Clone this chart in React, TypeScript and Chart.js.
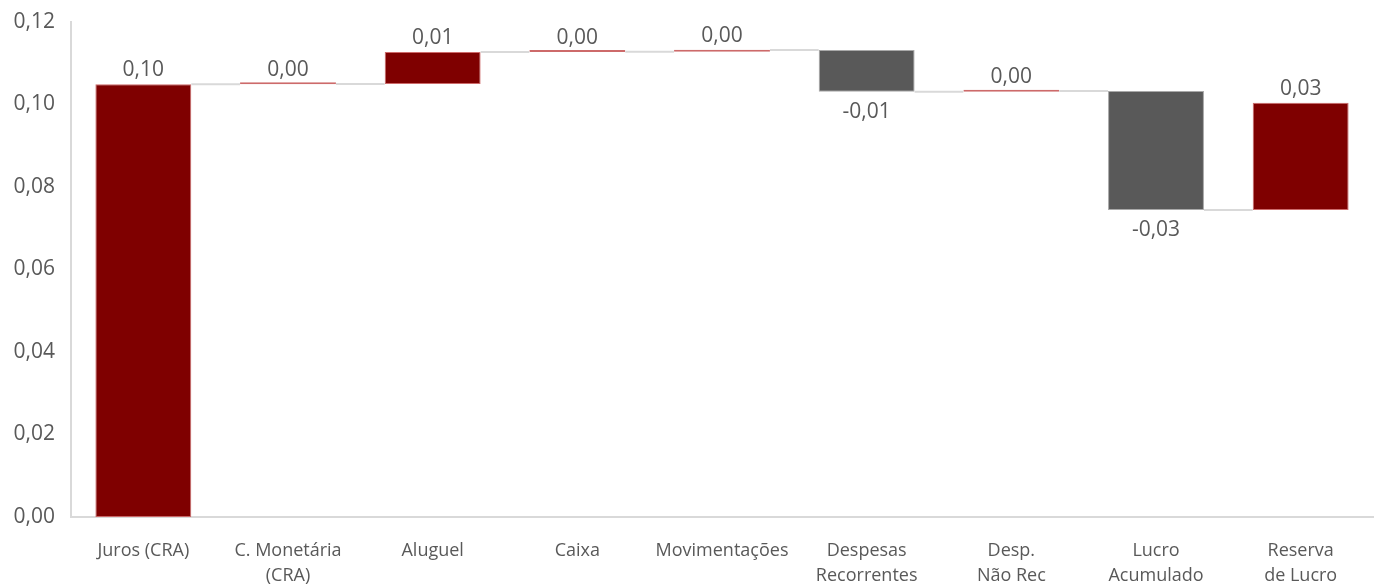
import React, { useEffect, useRef } from "react";
import { Chart, registerables } from "chart.js";

Chart.register(...registerables);

// Categories of the bridge, from first contribution to the final result
const categories: (string | string[])[] = [
  "Juros (CRA)",
  ["C. Monetária", "(CRA)"],
  "Aluguel",
  "Caixa",
  "Movimentações",
  ["Despesas", "Recorrentes"],
  ["Desp.", "Não Rec"],
  ["Lucro", "Acumulado"],
  ["Reserva", "de Lucro"],
];

// Contribution of each step (R$ per quota)
const deltas: number[] = [0.1049, 0.0001, 0.0077, 0.0001, 0.0004, -0.0101, 0.0002, -0.0289, 0.026];

const yTicks: number[] = [0, 0.02, 0.04, 0.06, 0.08, 0.1, 0.12];

const POS_COLOR = "#7f0000";
const NEG_COLOR = "#595959";
const TEXT_COLOR = "#595959";
const LINE_COLOR = "#d9d9d9";
const FONT = "'Open Sans', 'Noto Sans', sans-serif";

const fmt = (v: number) => v.toFixed(2).replace(".", ",");

// Running totals -> floating [start, end] ranges
const ranges: [number, number][] = (() => {
  let acc = 0;
  return deltas.map((d) => {
    const start = acc;
    acc += d;
    return [start, acc] as [number, number];
  });
})();

const waterfallExtras = {
  id: "waterfallExtras",
  afterDatasetsDraw(chart: any) {
    const { ctx, scales } = chart;
    const meta = chart.getDatasetMeta(0);
    const y = scales.y;
    ctx.save();
    // connector lines between consecutive bars
    ctx.strokeStyle = LINE_COLOR;
    ctx.lineWidth = 2;
    for (let i = 0; i < meta.data.length - 1; i++) {
      const a = meta.data[i];
      const b = meta.data[i + 1];
      const level = y.getPixelForValue(ranges[i][1]);
      ctx.beginPath();
      ctx.moveTo(a.x + a.width / 2, level);
      ctx.lineTo(b.x - b.width / 2, level);
      ctx.stroke();
    }
    // value labels
    ctx.fillStyle = TEXT_COLOR;
    ctx.font = `21px ${FONT}`;
    ctx.textAlign = "center";
    ctx.textBaseline = "middle";
    meta.data.forEach((bar: any, i: number) => {
      const d = deltas[i];
      const [s, e] = ranges[i];
      if (d >= 0) {
        ctx.fillText(fmt(d), bar.x, y.getPixelForValue(Math.max(s, e)) - 14);
      } else {
        ctx.fillText(fmt(d), bar.x, y.getPixelForValue(Math.min(s, e)) + 20);
      }
    });
    ctx.restore();
  },
};

export default function App() {
  const canvasRef = useRef<HTMLCanvasElement | null>(null);

  useEffect(() => {
    if (!canvasRef.current) return;
    const chart = new Chart(canvasRef.current, {
      type: "bar",
      data: {
        labels: categories,
        datasets: [
          {
            data: ranges as any,
            backgroundColor: deltas.map((d) => (d >= 0 ? POS_COLOR : NEG_COLOR)),
            borderColor: deltas.map((d) => (d >= 0 ? "rgba(200,90,90,0.9)" : "rgba(160,160,160,0.9)")),
            borderWidth: 1,
            borderSkipped: false,
            minBarLength: 2,
            categoryPercentage: 1,
            barPercentage: 0.663,
          },
        ],
      },
      options: {
        animation: false,
        responsive: false,
        devicePixelRatio: 1,
        layout: { padding: { top: 22, right: 8, left: 0, bottom: 0 } },
        plugins: {
          legend: { display: false },
          tooltip: { enabled: false },
        },
        scales: {
          x: {
            grid: { display: false, drawTicks: false },
            border: { display: true, color: LINE_COLOR, width: 2 },
            ticks: {
              color: TEXT_COLOR,
              font: { family: FONT, size: 18, lineHeight: 1.4 },
              padding: 21,
              maxRotation: 0,
              autoSkip: false,
            },
            afterFit: (s: any) => {
              s.height = 68;
            },
          },
          y: {
            min: 0,
            max: 0.12,
            grid: { display: false, drawTicks: false },
            border: { display: true, color: LINE_COLOR, width: 2 },
            afterBuildTicks: (s: any) => {
              s.ticks = yTicks.map((v) => ({ value: v }));
            },
            ticks: {
              color: TEXT_COLOR,
              font: { family: FONT, size: 21 },
              padding: 16,
              callback: (v: any) => fmt(Number(v)),
            },
            afterFit: (s: any) => {
              s.width = 71;
              s.paddingTop = 0;
              s.paddingBottom = 0;
            },
          },
        },
      },
      plugins: [waterfallExtras],
    });
    return () => chart.destroy();
  }, []);

  return (
    <div style={{ position: "fixed", left: 0, top: 0, width: 1381, height: 585, background: "#fff" }}>
      <canvas ref={canvasRef} width={1381} height={585} />
    </div>
  );
}
